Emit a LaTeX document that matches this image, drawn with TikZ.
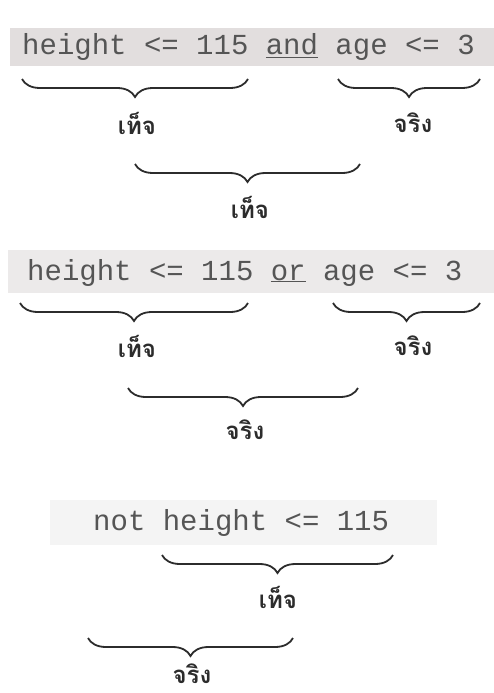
\documentclass[tikz,border=0pt]{standalone}
\usepackage{fontspec}
\setmonofont{Liberation Mono}
\newfontfamily\thaifont[Script=Thai]{Loma}
\usetikzlibrary{decorations.pathreplacing}
\definecolor{codegray}{HTML}{555555}
\definecolor{inkgray}{HTML}{2C2C2C}
\definecolor{bandA}{HTML}{E2DEDE}
\definecolor{bandB}{HTML}{ECEAEA}
\definecolor{bandC}{HTML}{F4F4F4}
\begin{document}
\begin{tikzpicture}[x=1pt,y=-1pt,
  code/.style={anchor=base west,inner sep=0pt,text=codegray,font=\ttfamily\fontsize{29}{32}\selectfont},
  lab/.style={inner sep=0pt,text=inkgray,font=\thaifont\bfseries\fontsize{24}{28}\selectfont},
  curly/.style={draw=inkgray,line width=1.8pt,decorate,decoration={brace,mirror,amplitude=18pt}}]
\useasboundingbox (0,0) rectangle (494,693);
\fill[white] (0,0) rectangle (494,693);
% background bands
\fill[bandA] (10,28) rectangle (494,66);
\fill[bandB] (8,250) rectangle (494,293);
\fill[bandC] (50,500) rectangle (437,545);
% row 1
\node[code] (t1) at (22,55) {height <= 115 \underline{and} age <= 3};
\coordinate (a1l) at (22,79); \coordinate (a1r) at (248,79);
\coordinate (a2l) at (338,79); \coordinate (a2r) at (480,79);
\coordinate (a3l) at (135,164); \coordinate (a3r) at (360,164);
\draw[curly] (a1l) -- (a1r);
\draw[curly] (a2l) -- (a2r);
\draw[curly] (a3l) -- (a3r);
\node[lab] (f1) at (137,123) {เท็จ};
\node[lab] (r1) at (413,123) {จริง};
\node[lab] (f2) at (250,207) {เท็จ};
% row 2
\node[code] (t2) at (27,280) {height <= 115 \underline{or} age <= 3};
\coordinate (b1l) at (20,303); \coordinate (b1r) at (248,303);
\coordinate (b2l) at (333,303); \coordinate (b2r) at (480,303);
\coordinate (b3l) at (128,388); \coordinate (b3r) at (358,388);
\draw[curly] (b1l) -- (b1r);
\draw[curly] (b2l) -- (b2r);
\draw[curly] (b3l) -- (b3r);
\node[lab] (f3) at (137,346) {เท็จ};
\node[lab] (r2) at (413,346) {จริง};
\node[lab] (r3) at (245,430) {จริง};
% row 3
\node[code] (t3) at (93,530) {not height <= 115};
\coordinate (c1l) at (162,555); \coordinate (c1r) at (393,555);
\coordinate (c2l) at (88,638); \coordinate (c2r) at (293,638);
\draw[curly] (c1l) -- (c1r);
\draw[curly] (c2l) -- (c2r);
\node[lab] (f4) at (278,597) {เท็จ};
\node[lab] (r4) at (192,674) {จริง};
\end{tikzpicture}
\end{document}
